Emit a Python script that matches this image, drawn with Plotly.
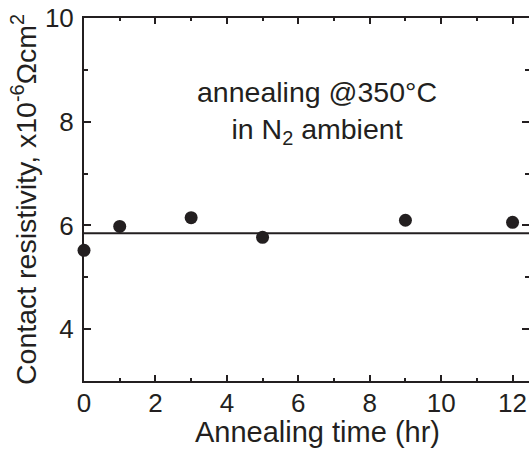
import plotly.graph_objects as go

# Contact resistivity vs annealing time at 350 °C in N2
anneal_time_hr = [0, 1, 3, 5, 9, 12]
resistivity_e6 = [5.52, 5.98, 6.15, 5.77, 6.10, 6.06]

fit_time_hr = [0, 12.5]
fit_level_e6 = [5.85, 5.85]

x_ticks = [0, 2, 4, 6, 8, 10, 12]
y_ticks = [4, 6, 8, 10]

ink = "#231f20"
font_family = "Liberation Sans, Arial, sans-serif"

fig = go.Figure()
fig.add_trace(go.Scatter(
    x=fit_time_hr, y=fit_level_e6, mode="lines",
    line=dict(color=ink, width=2), showlegend=False, hoverinfo="skip",
))
fig.add_trace(go.Scatter(
    x=anneal_time_hr, y=resistivity_e6, mode="markers",
    marker=dict(color=ink, size=13), showlegend=False, cliponaxis=False,
))
# invisible trace so the right-hand tick axis is drawn
fig.add_trace(go.Scatter(
    x=[None], y=[None], yaxis="y2", showlegend=False, hoverinfo="skip",
))

fig.add_annotation(
    x=6.53, y=8.17, xref="x", yref="y", showarrow=False,
    text="annealing @350°C<br>in N<sub>2</sub> ambient",
    font=dict(family=font_family, size=28.5, color=ink), align="center",
)

# x-axis title, placed slightly right of the plot centre
fig.add_annotation(
    x=0.524, y=-0.14, xref="paper", yref="paper", showarrow=False,
    xanchor="center", yanchor="middle",
    text="Annealing time (hr)",
    font=dict(family=font_family, size=29, color=ink),
)

fig.update_layout(
    width=529, height=450,
    margin=dict(l=84, r=0, t=18, b=69),
    plot_bgcolor="white", paper_bgcolor="white",
    font=dict(family=font_family, color=ink),
    xaxis=dict(
        range=[0, 12.46], tickvals=x_ticks,
        showline=True, linewidth=2, linecolor=ink, mirror="ticks",
        ticks="inside", ticklen=6, tickwidth=2, tickcolor=ink,
        minor=dict(ticks="inside", ticklen=3, tickwidth=2, tickcolor=ink, dtick=1, tick0=0),
        showgrid=False, zeroline=False,
        tickfont=dict(size=26, color=ink), ticklabelstandoff=-2,
    ),
    yaxis=dict(
        range=[3, 10], tickvals=y_ticks,
        showline=True, linewidth=2, linecolor=ink, mirror=False,
        ticks="inside", ticklen=7, tickwidth=2, tickcolor=ink,
        minor=dict(ticks="inside", ticklen=4, tickwidth=2, tickcolor=ink, dtick=1, tick0=0),
        showgrid=False, zeroline=False,
        tickfont=dict(size=26, color=ink), ticklabelstandoff=3,
        title=dict(text="Contact resistivity, x10<sup>-6</sup>Ωcm<sup>2</sup>",
                   font=dict(size=28.5, color=ink), standoff=0),
    ),
    yaxis2=dict(
        range=[3, 10], overlaying="y", side="right", tickvals=y_ticks,
        showline=False, showticklabels=False,
        ticks="inside", ticklen=7, tickwidth=2, tickcolor=ink,
        minor=dict(ticks="inside", ticklen=4, tickwidth=2, tickcolor=ink, dtick=1, tick0=0),
        showgrid=False, zeroline=False,
    ),
)

fig.write_html("out.html")
